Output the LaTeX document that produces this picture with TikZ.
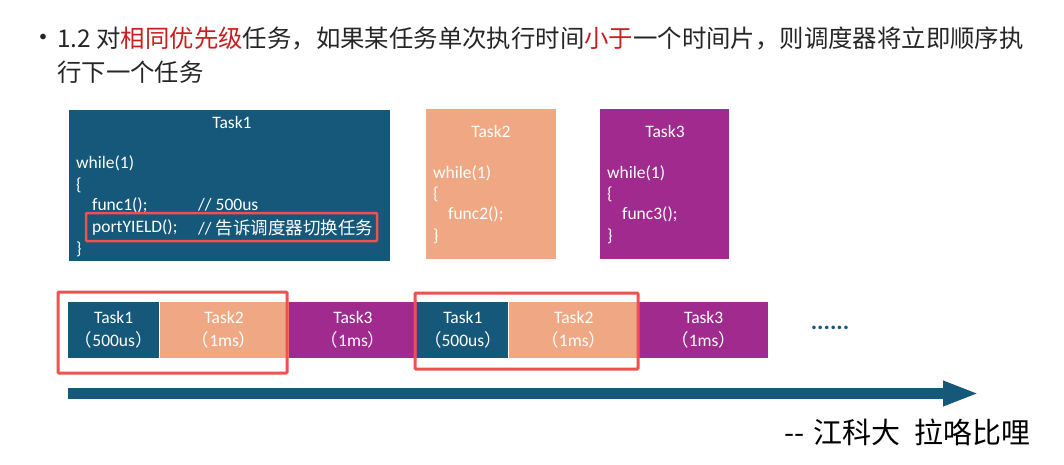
\documentclass[tikz,border=0pt]{standalone}
\usepackage{fontspec}
\setmainfont{Carlito}
\newfontfamily\cjk{Noto Sans CJK SC}
\usetikzlibrary{positioning, arrows.meta}
\definecolor{Azultarea}{RGB}{22,88,122}
\definecolor{Salmontarea}{RGB}{240,168,132}
\definecolor{Moradotarea}{RGB}{160,42,142}
\definecolor{Rojomarco}{RGB}{240,80,80}
\definecolor{Rojotitulo}{RGB}{200,30,30}
\definecolor{Gristexto}{RGB}{38,38,38}
\newcommand{\zh}[1]{{\cjk #1}}

\begin{document}
\begin{tikzpicture}[
  x=1pt, y=-1pt,
  every node/.style={font=\fontsize{17.5pt}{23pt}\selectfont, inner sep=0pt},
  tarea/.style={
    rectangle, anchor=north west,
    minimum height=150pt, inner sep=0pt
  },
  titulo/.style={text=white},
  codigo/.style={anchor=west, text=white},
  franja/.style={
    rectangle, anchor=west,
    minimum height=56pt, inner sep=0pt,
    align=center, text=white
  },
  marco/.style={draw=Rojomarco, line width=3pt, rounded corners=1pt},
  eje/.style={draw=Azultarea, line width=11.5pt,
    -{Triangle[length=36pt, width=23pt]}},
  texto/.style={anchor=west, text=Gristexto,
    font=\cjk\fontsize{24.4pt}{24pt}\selectfont}
]
  \useasboundingbox (0,0) rectangle (1064,465);

  % --- Enunciado ---
  \node[text=Gristexto, font=\fontsize{16pt}{16pt}\selectfont] (vineta) at (43,38) {\textbullet};
  \node[texto] (linea1) at (57,38)
    {1.2 对\textcolor{Rojotitulo}{相同优先级}任务，如果某任务单次执行时间\textcolor{Rojotitulo}{小于}一个时间片，则调度器将立即顺序执};
  \node[texto] (linea2) at (57,72) {行下一个任务};

  % --- Task1 ---
  \node[tarea, fill=Azultarea, minimum width=321pt, minimum height=151pt] (t1) at (69,110) {};
  \node[titulo] (t1tit) at (232,122) {Task1};
  \node[codigo] (t1a) at (76,163) {while(1)};
  \node[codigo] (t1b) at (76,185) {\{};
  \node[codigo] (t1c) at (92,205) {func1();};
  \node[codigo] (t1d) at (198,205) {// 500us};
  \node[codigo] (t1e) at (92,228) {portYIELD();};
  \node[codigo] (t1f) at (198,228) {// \zh{告诉调度器切换任务}};
  \node[codigo] (t1g) at (76,249) {\}};
  \draw[marco, line width=2.5pt] (86,213) rectangle (377,241);

  % --- Task2 ---
  \node[tarea, fill=Salmontarea, minimum width=130pt] (t2) at (426,109) {};
  \node[titulo] (t2tit) at (491,131) {Task2};
  \node[codigo] (t2a) at (433,173) {while(1)};
  \node[codigo] (t2b) at (433,194) {\{};
  \node[codigo] (t2c) at (448,214) {func2();};
  \node[codigo] (t2d) at (433,236) {\}};

  % --- Task3 ---
  \node[tarea, fill=Moradotarea, minimum width=129pt] (t3) at (600,109) {};
  \node[titulo] (t3tit) at (665,131) {Task3};
  \node[codigo] (t3a) at (607,173) {while(1)};
  \node[codigo] (t3b) at (607,194) {\{};
  \node[codigo] (t3c) at (622,214) {func3();};
  \node[codigo] (t3d) at (607,236) {\}};

  % --- Linea de tiempo ---
  \node[franja, fill=Azultarea, minimum width=91pt] (s1) at (68,330)
    {Task1\\\zh{（}500us\zh{）}};
  \node[franja, fill=Salmontarea, minimum width=129pt, right=0pt of s1] (s2)
    {Task2\\\zh{（}1ms\zh{）}};
  \node[franja, fill=Moradotarea, minimum width=128pt, right=0pt of s2] (s3)
    {Task3\\\zh{（}1ms\zh{）}};
  \node[franja, fill=Azultarea, minimum width=91pt, right=0pt of s3] (s4)
    {Task1\\\zh{（}500us\zh{）}};
  \node[franja, fill=Salmontarea, minimum width=130pt, right=0pt of s4] (s5)
    {Task2\\\zh{（}1ms\zh{）}};
  \node[franja, fill=Moradotarea, minimum width=129pt, right=0pt of s5] (s6)
    {Task3\\\zh{（}1ms\zh{）}};
  \node[text=Azultarea, font=\fontsize{24pt}{24pt}\selectfont\bfseries] (puntos) at (830,328) {......};

  % --- Marcos ---
  \draw[marco] (58,292) rectangle (287,373);
  \draw[marco] (415,293) rectangle (638,369);

  % --- Eje ---
  \coordinate (ini) at (68,393.5);
  \coordinate (fin) at (979,393.5);
  \draw[eje] (ini) -- (fin);

  % --- Firma ---
  \node[anchor=west, font=\cjk\fontsize{29pt}{29pt}\selectfont, text=black] (firma) at (784,432)
    {-\kern0pt-\hspace{0.3em}江科大\hspace{0.5em}拉咯比哩};
\end{tikzpicture}
\end{document}
